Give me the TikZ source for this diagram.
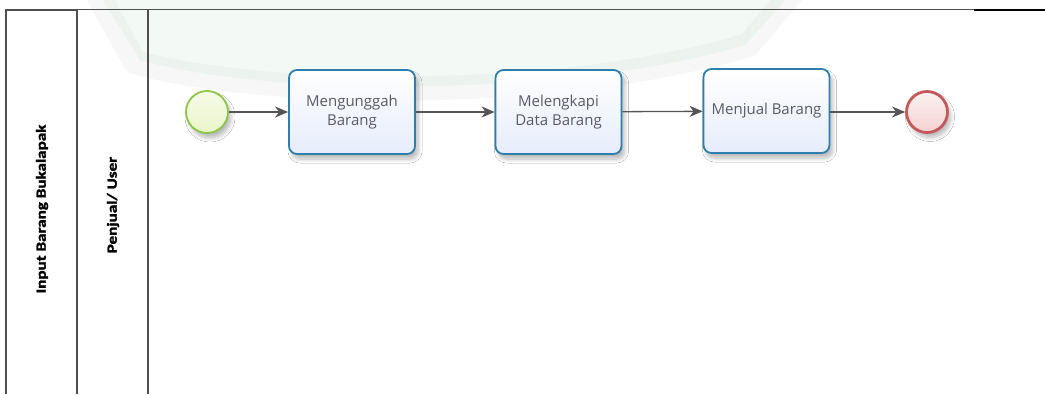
\documentclass[tikz,border=0pt]{standalone}
\usepackage{fontspec}
\usepackage{graphicx}
\setmainfont{Open Sans}
\newfontfamily\lanefont{Carlito}[BoldFont={Carlito Bold}, BoldFeatures={FakeBold=1.6}]
\usetikzlibrary{arrows.meta,shadows.blur,positioning}

\definecolor{poolline}{HTML}{4F4F4F}
\definecolor{taskline}{HTML}{2F7FAE}
\definecolor{taskfill}{HTML}{E6ECFB}
\definecolor{tasktext}{HTML}{5A5A6A}
\definecolor{startline}{HTML}{8DC44A}
\definecolor{startfill}{HTML}{EAF5C8}
\definecolor{endline}{HTML}{C4585A}
\definecolor{endfill}{HTML}{F5D2D2}
\definecolor{flowline}{HTML}{555555}
\definecolor{markband}{HTML}{9A9A9A}
\definecolor{markfill}{HTML}{BFE8D2}

\tikzset{
  softshadow/.style={blur shadow={shadow xshift=3pt, shadow yshift=-5pt,
      shadow blur steps=8, shadow opacity=28, shadow blur radius=4pt}},
  task/.style={draw=taskline, line width=1.8pt, rounded corners=8pt,
      minimum width=126pt, minimum height=84pt, align=center,
      top color=white, bottom color=taskfill, softshadow,
      text=tasktext, font=\fontsize{15}{19}\selectfont},
  startevent/.style={circle, draw=startline, line width=1.8pt,
      minimum size=42pt, inner sep=0pt, top color=white!60!startfill,
      bottom color=startfill, softshadow},
  endevent/.style={circle, draw=endline, line width=2.8pt,
      minimum size=41pt, inner sep=0pt, top color=white!70!endfill,
      bottom color=endfill, softshadow},
  flow/.style={draw=flowline, line width=1.3pt,
      -{Stealth[length=13pt, width=11pt, inset=4pt]}},
  lanebar/.style={draw=poolline, line width=1.6pt},
  lanelabel/.style={rotate=90, font=\lanefont\bfseries\fontsize{14}{16}\selectfont,
      text=black, inner sep=0pt}
}

\begin{document}
\begin{tikzpicture}[x=1pt, y=-1pt]
  \useasboundingbox (0,0) rectangle (1045,394);
  \fill[white] (0,0) rectangle (1045,394);

  % faint emblem in the background
  \fill[markfill, opacity=0.18]
    (100,-5) -- (140,60) .. controls (260,95) and (560,100) .. (745,45)
    -- (790,-5) -- cycle;
  \draw[markband, opacity=0.08, line width=24pt, line join=round]
    (95,-10) -- (135,62) .. controls (260,98) and (560,102) .. (748,45)
    -- (795,-10);

  % pool and lane borders
  \coordinate (poolTL) at (6,10);
  \coordinate (laneA) at (77,9.5);
  \coordinate (laneB) at (148,9.5);
  \coordinate (topGrey) at (974,9.5);
  \coordinate (topEnd) at (1045,9.5);
  \draw[lanebar] (6,394) -- (poolTL) -- (77,10);
  \draw[lanebar] (laneA) -- (topGrey);
  \draw[draw=black, line width=2pt] (topGrey) -- (topEnd);
  \draw[lanebar] (laneA) -- (77,394);
  \draw[lanebar] (laneB) -- (148,394);

  % lane titles
  \node[lanelabel] (pool) at (42,209) {\scalebox{1.22}[1]{Input Barang Bukalapak}};
  \node[lanelabel] (lane) at (113,205) {\scalebox{1.22}[1]{Penjual/ User}};

  % process
  \node[startevent] (start) at (207,112) {};
  \node[task] (t1) at (352,112) {Mengunggah\\Barang};
  \node[task] (t2) at (558.5,112) {Melengkapi\\Data Barang};
  \node[task] (t3) at (766.5,111) {Menjual Barang};
  \node[endevent] (stop) at (927,112) {};

  \draw[flow] (start) -- (t1);
  \draw[flow] (t1) -- (t2);
  \draw[flow] (t2) -- (t3);
  \draw[flow] (t3.east |- stop) -- (stop);
\end{tikzpicture}
\end{document}
